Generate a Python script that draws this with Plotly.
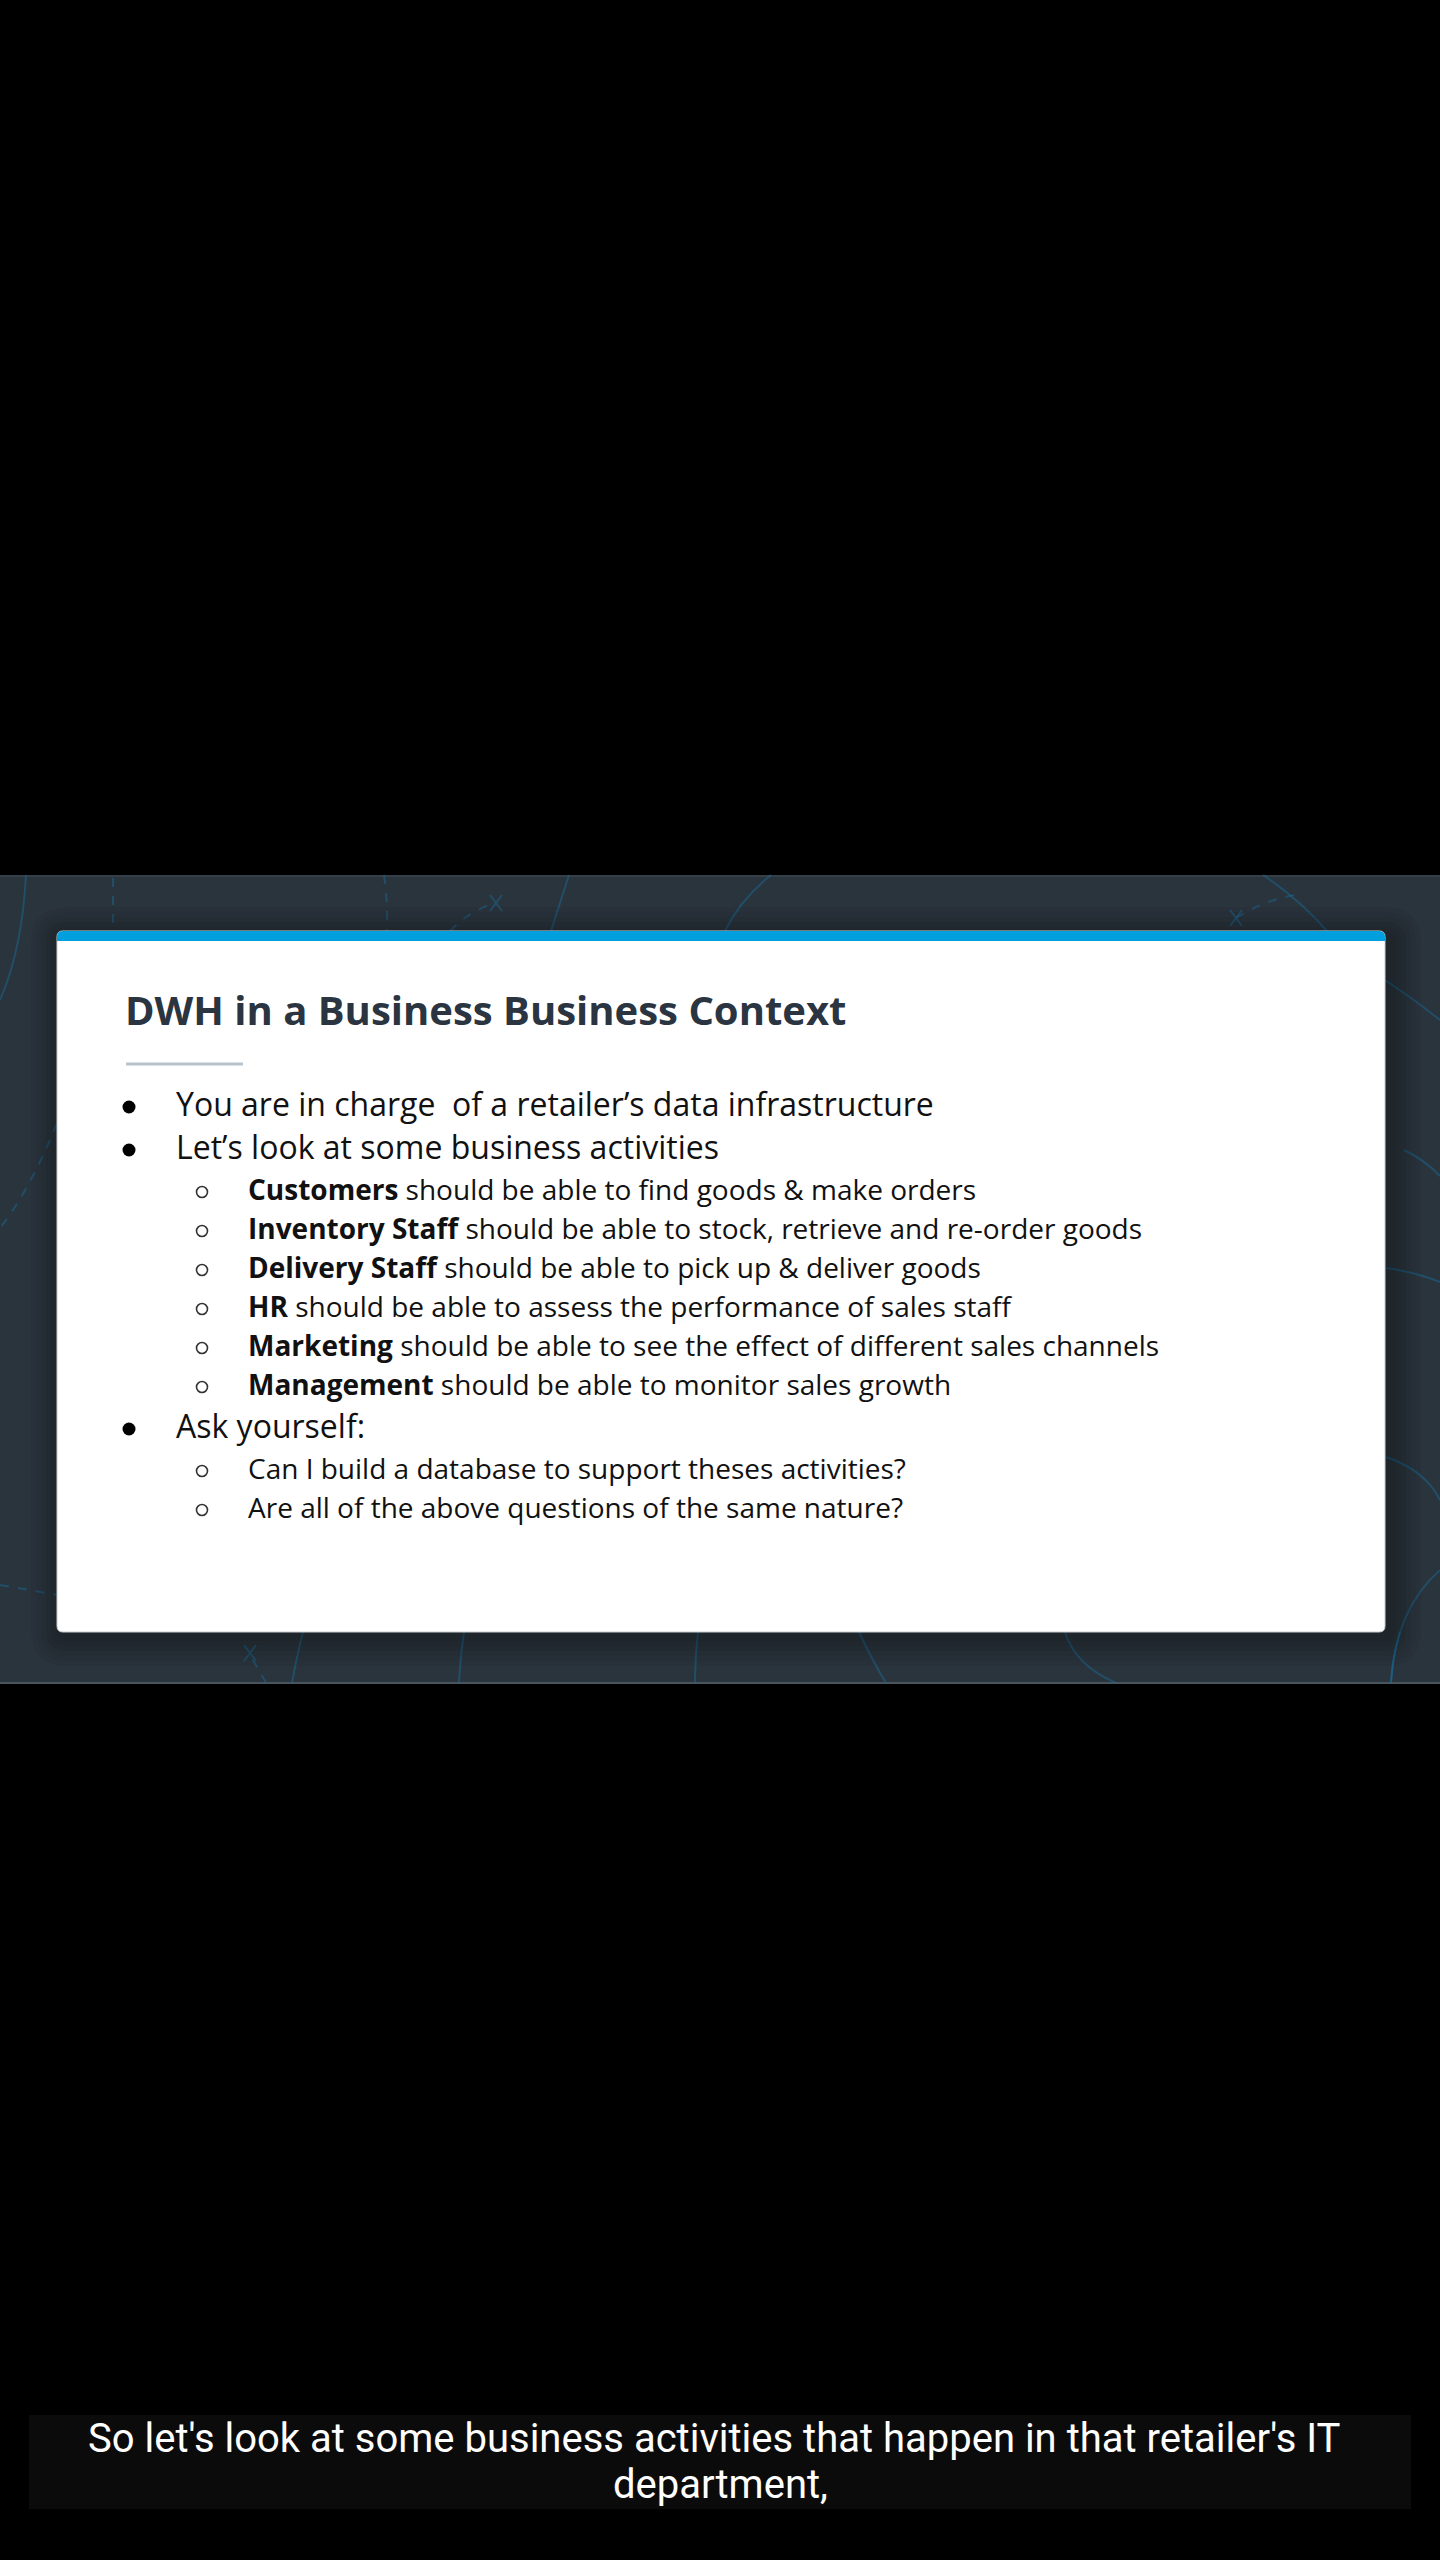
import plotly.graph_objects as go

# ---- content ----
title_text = "DWH in a Business Business Context"
line_levels = [1, 1, 2, 2, 2, 2, 2, 2, 1, 2, 2]
line_bold = ["", "", "Customers", "Inventory Staff", "Delivery Staff", "HR",
             "Marketing", "Management", "", "", ""]
line_rest = [
    "You are in charge\u00a0 of a retailer\u2019s data infrastructure",
    "Let\u2019s look at some business activities",
    " should be able to find goods & make orders",
    " should be able to stock, retrieve and re-order goods",
    " should be able to pick up & deliver goods",
    " should be able to assess the performance of sales staff",
    " should be able to see the effect of different sales channels",
    " should be able to monitor sales growth",
    "Ask yourself:",
    "Can I build a database to support theses activities?",
    "Are all of the above questions of the same nature?",
]
caption_lines = ["So let's look at some business activities that happen in that retailer's IT",
                 "department,"]

W, H = 1440, 2560
SLIDE_BG = "#2a343d"
DECOR = "rgba(25,115,165,0.42)"

# ---- layout helpers ----
def rrect(x0, y0, x1, y1, r):
    return (f"M{x0+r},{y0} L{x1-r},{y0} Q{x1},{y0} {x1},{y0+r} L{x1},{y1-r} "
            f"Q{x1},{y1} {x1-r},{y1} L{x0+r},{y1} Q{x0},{y1} {x0},{y1-r} "
            f"L{x0},{y0+r} Q{x0},{y0} {x0+r},{y0} Z")

shapes = []
# slide background
shapes.append(dict(type="rect", x0=0, x1=W, y0=875, y1=1684, fillcolor=SLIDE_BG,
                   line_width=0, layer="below"))
shapes.append(dict(type="line", x0=0, x1=W, y0=1683, y1=1683,
                   line=dict(color="#4a545d", width=2), layer="below"))
shapes.append(dict(type="line", x0=0, x1=W, y0=876, y1=876,
                   line=dict(color="#353f48", width=2), layer="below"))

# decorative lines
decor_paths = [
    ("M26,875 Q22,950 0,1000", "solid"),
    ("M113,878 L113,928", "dash"),
    ("M384,875 Q388,905 387,931", "dash"),
    ("M450,931 Q470,910 496,903", "dash"),
    ("M569,875 L551,931", "solid"),
    ("M771,875 Q740,900 725,931", "solid"),
    ("M1263,875 Q1300,900 1327,931", "solid"),
    ("M1236,918 Q1265,900 1295,895", "dash"),
    ("M57,1123 Q30,1190 0,1228", "dash"),
    ("M0,1585 Q30,1590 57,1595", "dash"),
    ("M266,1683 Q258,1668 250,1656", "dash"),
    ("M303,1632 Q296,1660 292,1683", "solid"),
    ("M464,1632 Q460,1660 459,1683", "solid"),
    ("M698,1632 Q695,1660 695,1683", "solid"),
    ("M859,1632 Q872,1660 886,1683", "solid"),
    ("M1065,1632 Q1075,1665 1116,1683", "solid"),
    ("M1400,1632 Q1392,1660 1391,1683", "solid"),
    ("M1385,980 Q1415,1000 1440,1020", "solid"),
    ("M1404,1150 Q1425,1160 1440,1176", "solid"),
    ("M1386,1268 Q1415,1272 1440,1282", "solid"),
    ("M1386,1457 Q1425,1470 1440,1500", "solid"),
    ("M1391,1683 Q1395,1610 1440,1570", "solid"),
]
for p, d in decor_paths:
    shapes.append(dict(type="path", path=p, line=dict(color=DECOR, width=2, dash=d),
                       layer="below"))
# X marks
for cx, cy in [(496, 903), (1236, 918), (250, 1653)]:
    shapes.append(dict(type="path", path=f"M{cx-6},{cy-8} L{cx+6},{cy+8} M{cx+6},{cy-8} L{cx-6},{cy+8}",
                       line=dict(color=DECOR, width=2), layer="below"))

# card shadow
cx0, cy0, cx1, cy1 = 57, 931, 1385, 1632
for i in range(1, 7):
    e = i * 5
    shapes.append(dict(type="path", path=rrect(cx0 - e + 4, cy0 - e + 6, cx1 + e + 6, cy1 + e + 4, 6 + e),
                       fillcolor="rgba(0,0,0,0.045)", line_width=0, layer="below"))
# card
shapes.append(dict(type="path", path=rrect(cx0, cy0, cx1, cy1, 6), fillcolor="#ffffff",
                   line=dict(color="#c9cdd1", width=1), layer="below"))
# blue top bar
shapes.append(dict(type="path", path=f"M{cx0},{cy0+6} Q{cx0},{cy0} {cx0+6},{cy0} L{cx1-6},{cy0} "
                   f"Q{cx1},{cy0} {cx1},{cy0+6} L{cx1},{cy0+10} L{cx0},{cy0+10} Z",
                   fillcolor="#029fde", line_width=0, layer="below"))
# title underline
shapes.append(dict(type="line", x0=126, x1=243, y0=1064, y1=1064,
                   line=dict(color="#b7c3cd", width=3), layer="below"))
# caption box
shapes.append(dict(type="rect", x0=29, x1=1411, y0=2415, y1=2509, fillcolor="#0b0b0b",
                   line_width=0, layer="below"))

annotations = []
# title
annotations.append(dict(text=f"<b>{title_text}</b>", x=123, y=1025 - 0.388 * 40, xref="x", yref="y",
                        xanchor="left", yanchor="middle", showarrow=False,
                        font=dict(family="Open Sans", size=40, color="#2a3541")))

# bullet lines
baselines = []
y = 1116
prev = None
for lv in line_levels:
    if prev is not None:
        if prev == 2 and lv == 2:
            y += 39
        elif lv == 1:
            y += 43
        else:
            y += 41
    baselines.append(y)
    prev = lv

b1x, b1y, b2x, b2y = [], [], [], []
for lv, b, rest, bl in zip(line_levels, line_bold, line_rest, baselines):
    size = 32 if lv == 1 else 28
    tx = 174 if lv == 1 else 246
    txt = (f"<b>{b}</b>" if b else "") + rest
    annotations.append(dict(text=txt, x=tx, y=bl - 0.388 * size, xref="x", yref="y",
                            xanchor="left", yanchor="middle", showarrow=False,
                            font=dict(family="Open Sans", size=size, color="#111111")))
    if lv == 1:
        b1x.append(129); b1y.append(bl - 9)
    else:
        b2x.append(202); b2y.append(bl - 8)

# caption
caption_cx = [714, 720]
for i, t in enumerate(caption_lines):
    annotations.append(dict(text=t, x=caption_cx[i], y=2452 + 46 * i - 0.341 * 40, xref="x", yref="y",
                            xanchor="center", yanchor="middle", showarrow=False,
                            font=dict(family="Roboto", size=40, color="#ffffff")))

fig = go.Figure()
fig.add_trace(go.Scatter(x=b1x, y=b1y, mode="markers", hoverinfo="skip",
                         marker=dict(symbol="circle", size=13, color="#000000", line_width=0)))
fig.add_trace(go.Scatter(x=b2x, y=b2y, mode="markers", hoverinfo="skip",
                         marker=dict(symbol="circle-open", size=11, color="#333333",
                                     line=dict(width=1.6, color="#333333"))))

fig.update_layout(
    width=W, height=H, margin=dict(l=0, r=0, t=0, b=0),
    paper_bgcolor="#000000", plot_bgcolor="#000000",
    showlegend=False, shapes=shapes, annotations=annotations,
    xaxis=dict(range=[0, W], visible=False, fixedrange=True),
    yaxis=dict(range=[H, 0], visible=False, fixedrange=True),
)
fig.write_html("out.html", post_script="document.body.style.margin='0';",
               config={"displayModeBar": False})
